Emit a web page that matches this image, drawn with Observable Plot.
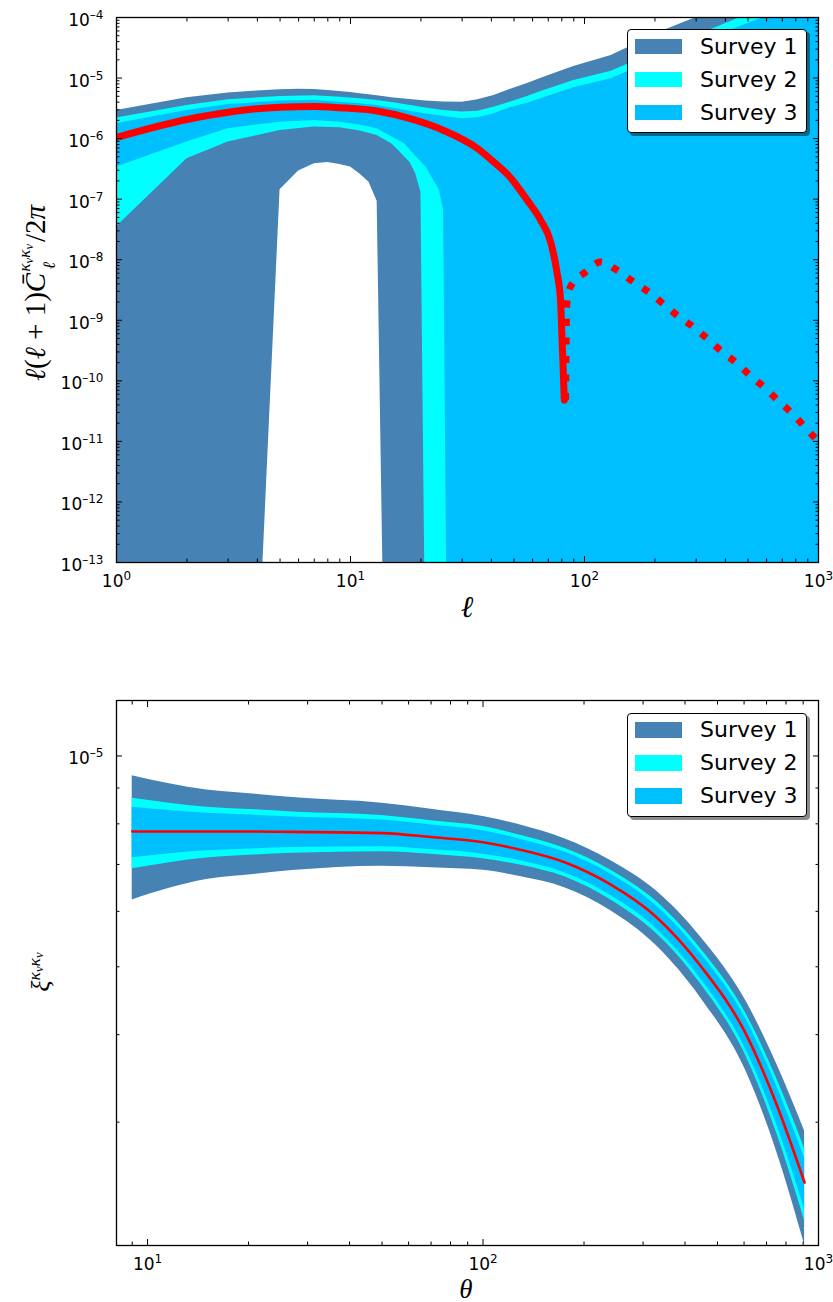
<!DOCTYPE html>
<html>
<head>
<meta charset="utf-8">
<script src="https://cdn.jsdelivr.net/npm/d3@7"></script>
<script src="https://cdn.jsdelivr.net/npm/@observablehq/plot@0.6"></script>
<style>
html,body{margin:0;padding:0;background:#fff;overflow:hidden;}
#wrap{position:relative;width:833px;height:1302px;overflow:hidden;font-family:"DejaVu Sans",sans-serif;}
#p1,#p2{position:absolute;left:0;}
#p1{top:0;} #p2{top:640px;}
#wrap svg{overflow:visible;background:transparent;}
.legend{position:absolute;left:627px;width:180px;height:104px;box-sizing:border-box;background:#fff;border:1.2px solid #000;border-radius:4px;box-shadow:3px 3px 0 rgba(0,0,0,0.45);}
.lrow{position:absolute;left:0;width:100%;height:0;}
.patch{position:absolute;left:7px;width:47px;height:15.5px;top:-7.75px;}
.ltxt{position:absolute;left:72px;top:-13px;font-size:22px;line-height:26px;color:#000;white-space:nowrap;}
.math{position:absolute;font-family:"Liberation Serif","DejaVu Serif",serif;color:#000;white-space:nowrap;line-height:1;}
.rot{transform:translate(-50%,-50%) rotate(-90deg);}
.ctr{transform:translate(-50%,-50%);}
.ss{position:relative;display:inline-block;font-size:0.6em;margin-left:1px;margin-right:2px;}
.ssup{position:relative;top:-0.85em;}
.ssub{position:absolute;left:0.15em;top:0.55em;}
.ss sub,.sup sub{font-size:0.72em;vertical-align:-0.25em;}
.sup{font-size:0.68em;vertical-align:0.55em;}
</style>
</head>
<body>
<div id="wrap">
  <div id="p1"></div>
  <div id="p2"></div>
  <div class="math rot" style="left:36px;top:293px;font-size:29px"><i>ℓ</i>(<i>ℓ</i> + 1)<i>C̄</i><span class="ss"><span class="ssup"><i>κ</i><sub><i>v</i></sub><i>κ</i><sub><i>v</i></sub></span><span class="ssub"><i>ℓ</i></span></span>/2<i>π</i></div>
  <div class="math ctr" style="left:467px;top:607px;font-size:30px"><i>ℓ</i></div>
  <div class="math rot" style="left:40px;top:972px;font-size:26px"><i>ξ</i><span class="sup"><i>κ</i><sub><i>v</i></sub><i>κ</i><sub><i>v</i></sub></span></div>
  <div class="math ctr" style="left:466px;top:1289px;font-size:27px"><i>θ</i></div>
</div>
<script>
// ---------- legend ----------
const surveyNames = ["Survey 1", "Survey 2", "Survey 3"];
const surveyColors = ["#4682b4", "#00ffff", "#00bfff"];

// ---------- top panel: ell(ell+1) C_ell / 2pi ----------
// Survey 1 band (lower 0 = non-positive, clipped off the log axis)
const ell1   = [1, 2, 3, 4, 5, 6, 7, 8, 9, 10, 11, 12, 13, 14, 15, 21, 25, 30, 35, 41, 48, 57, 67, 90, 130, 225, 300, 1000];
const upper1 = [2.92e-6, 4.73e-6, 5.64e-6, 6.1e-6, 6.41e-6, 6.56e-6, 6.45e-6, 6.24e-6, 6.0e-6, 5.75e-6, 5.51e-6, 5.3e-6, 5.1e-6, 4.9e-6, 4.73e-6, 4.16e-6, 4.03e-6, 4.0e-6, 4.39e-6, 5.16e-6, 6.48e-6, 8.15e-6, 1.035e-5, 1.55e-5, 2.36e-5, 6.4e-5, 1.0e-4, 6.0e-4];
const lower1 = [0, 0, 0, 0, 1.43e-7, 2.91e-7, 3.85e-7, 4.05e-7, 3.75e-7, 3.4e-7, 2.57e-7, 1.91e-7, 9.2e-8, 0, 0, 0, 0, 0, 0, 0, 0, 0, 0, 0, 0, 0, 0, 0];
// Survey 2 band
const ell2   = [1, 2, 3, 5, 7, 9, 11, 13, 15, 16, 18, 19, 20, 21, 25, 30, 35, 41, 48, 57, 67, 90, 130, 225, 464, 1000];
const upper2 = [2.18e-6, 3.53e-6, 4.39e-6, 4.97e-6, 5.10e-6, 4.84e-6, 4.55e-6, 4.27e-6, 3.95e-6, 3.8e-6, 3.53e-6, 3.42e-6, 3.3e-6, 3.2e-6, 2.92e-6, 2.74e-6, 2.84e-6, 3.31e-6, 4.0e-6, 4.97e-6, 6.24e-6, 9.1e-6, 1.3e-5, 3.2e-5, 1.0e-4, 3.2e-4];
const lower2 = [3.5e-8, 4.66e-7, 8.75e-7, 1.365e-6, 1.55e-6, 1.51e-6, 1.34e-6, 1.13e-6, 8.24e-7, 6.4e-7, 4.0e-7, 2.64e-7, 1.3e-7, 0, 0, 0, 0, 0, 0, 0, 0, 0, 0, 0, 0, 0];
// Survey 3 band
const ell3   = [1, 2, 3, 5, 7, 9, 11, 13, 15, 17, 18, 21, 24, 25, 26, 30, 35, 41, 48, 57, 67, 90, 130, 225, 582, 1000];
const upper3 = [1.76e-6, 2.92e-6, 3.66e-6, 4.16e-6, 4.27e-6, 4.0e-6, 3.78e-6, 3.53e-6, 3.2e-6, 2.95e-6, 2.84e-6, 2.55e-6, 2.38e-6, 2.32e-6, 2.28e-6, 2.13e-6, 2.21e-6, 2.58e-6, 3.24e-6, 3.85e-6, 4.73e-6, 6.92e-6, 9.7e-6, 2.4e-5, 1.0e-4, 2.25e-4];
const lower3 = [3.39e-7, 8.75e-7, 1.46e-6, 1.87e-6, 1.99e-6, 1.87e-6, 1.68e-6, 1.46e-6, 1.07e-6, 8.24e-7, 6.45e-7, 3.39e-7, 1.40e-7, 6.5e-8, 0, 0, 0, 0, 0, 0, 0, 0, 0, 0, 0, 0];
// mean, positive part (solid) and |negative part| (dotted)
const ellPos = [1, 2, 3, 5, 7, 9, 13, 18, 25, 35, 41, 48, 57, 65, 72, 76, 79, 80, 81, 82];
const clPos  = [1.047e-6, 2.07e-6, 2.73e-6, 3.31e-6, 3.40e-6, 3.24e-6, 2.85e-6, 2.13e-6, 1.365e-6, 6.8e-7, 4.09e-7, 2.32e-7, 9.55e-8, 4.47e-8, 1.85e-8, 6.68e-9, 2.14e-9, 6.1e-10, 1.7e-10, 4.8e-11];
const ellNeg = [83, 84, 87, 101, 117, 138, 162, 188, 218, 252, 292, 338, 388, 450, 512, 594, 677, 780, 886, 971, 1000];
const clNeg  = [4.8e-11, 1.89e-9, 3.55e-9, 6.27e-9, 9.16e-9, 6.68e-9, 4.28e-9, 2.93e-9, 1.84e-9, 1.16e-9, 7.76e-10, 4.81e-10, 3.0e-10, 1.93e-10, 1.21e-10, 7.47e-11, 4.6e-11, 2.78e-11, 1.63e-11, 1.12e-11, 1.0e-11];

// ---------- bottom panel: xi(theta) ----------
const theta = [9, 15, 21, 27, 50, 70, 100, 130, 175, 239, 327, 446, 609, 750, 909];
const xi    = [7.80e-6, 7.80e-6, 7.80e-6, 7.79e-6, 7.76e-6, 7.66e-6, 7.53e-6, 7.34e-6, 7.05e-6, 6.56e-6, 5.90e-6, 5.01e-6, 4.00e-6, 3.18e-6, 2.46e-6];
const sig1  = [1.57e-6, 1.14e-6, 1.02e-6, 0.93e-6, 0.80e-6, 0.735e-6, 0.665e-6, 0.62e-6, 0.565e-6, 0.54e-6, 0.53e-6, 0.50e-6, 0.46e-6, 0.455e-6, 0.455e-6];
const sig2  = [0.90e-6, 0.65e-6, 0.58e-6, 0.53e-6, 0.46e-6, 0.42e-6, 0.40e-6, 0.36e-6, 0.33e-6, 0.32e-6, 0.31e-6, 0.29e-6, 0.28e-6, 0.285e-6, 0.29e-6];
const sig3  = [0.645e-6, 0.48e-6, 0.43e-6, 0.39e-6, 0.34e-6, 0.31e-6, 0.29e-6, 0.26e-6, 0.24e-6, 0.23e-6, 0.22e-6, 0.21e-6, 0.20e-6, 0.20e-6, 0.205e-6];

// ---------- helpers ----------
const FLOOR = 1e-15; // where a lower bound is non-positive, send it far below the axis
const bandRows = (ell, lo, hi) => ell.map((x, i) => ({x, lo: lo[i] > 0 ? lo[i] : FLOOR, hi: hi[i]}));
const sigRows = (th, m, s) => th.map((x, i) => ({x, lo: m[i] - s[i], hi: m[i] + s[i]}));
const pts = (xs, ys) => xs.map((x, i) => ({x, y: ys[i]}));
const decades = (a, b) => d3.range(a, b + 1).map(e => +(`1e${e}`));
const minors = (a, b, lo, hi) => {
  const out = [];
  for (let e = a; e < b; e++) for (let m = 2; m <= 9; m++) { const v = +(`${m}e${e}`); if (v >= lo && v <= hi) out.push(v); }
  return out;
};
const fmtPow = d => `10^${Math.round(Math.log10(d))}`;

function axes({xMaj, xMin, yMaj, yMin, xLab, yLab}) {
  const t = {fill: "none", label: null, stroke: "#000", strokeWidth: 1};
  return [
    Plot.axisX({...t, ticks: xMaj, anchor: "bottom", tickSize: 6, dy: -6}),
    Plot.axisX({...t, ticks: xMin, anchor: "bottom", tickSize: 3.5, dy: -3.5}),
    Plot.axisX({...t, ticks: xMaj, anchor: "top", tickSize: 6, dy: 6}),
    Plot.axisX({...t, ticks: xMin, anchor: "top", tickSize: 3.5, dy: 3.5}),
    Plot.axisY({...t, ticks: yMaj, anchor: "left", tickSize: 6, dx: 6}),
    Plot.axisY({...t, ticks: yMin, anchor: "left", tickSize: 3.5, dx: 3.5}),
    Plot.axisY({...t, ticks: yMaj, anchor: "right", tickSize: 6, dx: -6}),
    Plot.axisY({...t, ticks: yMin, anchor: "right", tickSize: 3.5, dx: -3.5}),
    Plot.axisX({ticks: xLab, anchor: "bottom", tickSize: 0, tickPadding: 12, tickFormat: fmtPow, label: null, fill: "#000"}),
    Plot.axisY({ticks: yLab, anchor: "left", tickSize: 0, tickPadding: 13, tickFormat: fmtPow, label: null, fill: "#000"})
  ];
}

function superscripts(svg) {
  d3.select(svg).selectAll('g[aria-label="y-axis tick label"] text').attr("y", "0.5em");
  d3.select(svg).selectAll("text").each(function () {
    const t = this.textContent;
    if (!t.includes("^")) return;
    const [b, e] = t.split("^");
    this.textContent = "";
    const s = d3.select(this);
    s.append("tspan").text(b);
    s.append("tspan").attr("dy", -7).attr("font-size", 12).text(e.replace("-", "–"));
  });
}

const style = {fontFamily: "DejaVu Sans", fontSize: "17px", color: "#000", background: "transparent", overflow: "visible"};

// ---------- top plot ----------
const topBands = [bandRows(ell1, lower1, upper1), bandRows(ell2, lower2, upper2), bandRows(ell3, lower3, upper3)];
const p1 = Plot.plot({
  width: 833, height: 640,
  marginLeft: 116, marginRight: 15, marginTop: 17, marginBottom: 78,
  x: {type: "log", domain: [1, 1000]},
  y: {type: "log", domain: [1e-13, 1e-4]},
  style,
  marks: [
    ...topBands.map((rows, i) => Plot.areaY(rows, {x: "x", y1: "lo", y2: "hi", fill: surveyColors[i], clip: true})),
    Plot.line(pts(ellPos, clPos), {x: "x", y: "y", stroke: "#ff0000", strokeWidth: 7, curve: "monotone-x", clip: true}),
    Plot.line(pts(ellNeg, clNeg), {x: "x", y: "y", stroke: "#ff0000", strokeWidth: 7, strokeDasharray: "7,11.5", strokeLinecap: "butt", curve: "monotone-x", clip: true}),
    Plot.frame({stroke: "#000", strokeWidth: 1.3}),
    ...axes({
      xMaj: decades(0, 3), xMin: minors(0, 3, 1, 1000),
      yMaj: decades(-13, -4), yMin: minors(-13, -4, 1e-13, 1e-4),
      xLab: decades(0, 3), yLab: decades(-13, -4)
    })
  ]
});
superscripts(p1);
document.getElementById("p1").append(p1);

// ---------- bottom plot ----------
const botBands = [sigRows(theta, xi, sig1), sigRows(theta, xi, sig2), sigRows(theta, xi, sig3)];
const p2 = Plot.plot({
  width: 833, height: 662,
  marginLeft: 116, marginRight: 15, marginTop: 60, marginBottom: 57,
  x: {type: "log", domain: [8.08, 1000]},
  y: {type: "log", domain: [2e-6, 1.2e-5]},
  style,
  marks: [
    ...botBands.map((rows, i) => Plot.areaY(rows, {x: "x", y1: "lo", y2: "hi", fill: surveyColors[i], curve: "monotone-x", clip: true})),
    Plot.line(pts(theta, xi), {x: "x", y: "y", stroke: "#ff0000", strokeWidth: 2.6, curve: "monotone-x", clip: true}),
    Plot.frame({stroke: "#000", strokeWidth: 1.3}),
    ...axes({
      xMaj: decades(1, 3), xMin: minors(0, 3, 8.08, 1000),
      yMaj: [1e-5], yMin: minors(-6, -5, 2e-6, 1.2e-5),
      xLab: decades(1, 3), yLab: [1e-5]
    })
  ]
});
superscripts(p2);
document.getElementById("p2").append(p2);

// ---------- legends ----------
function legend(top) {
  const box = document.createElement("div");
  box.className = "legend";
  box.style.top = top + "px";
  surveyNames.forEach((name, i) => {
    const row = document.createElement("div");
    row.className = "lrow";
    row.style.top = (16.5 + i * 33) + "px";
    row.innerHTML = `<div class="patch" style="background:${surveyColors[i]}"></div><div class="ltxt">${name}</div>`;
    box.append(row);
  });
  document.getElementById("wrap").append(box);
}
legend(29);
legend(712.5);
</script>
</body>
</html>
